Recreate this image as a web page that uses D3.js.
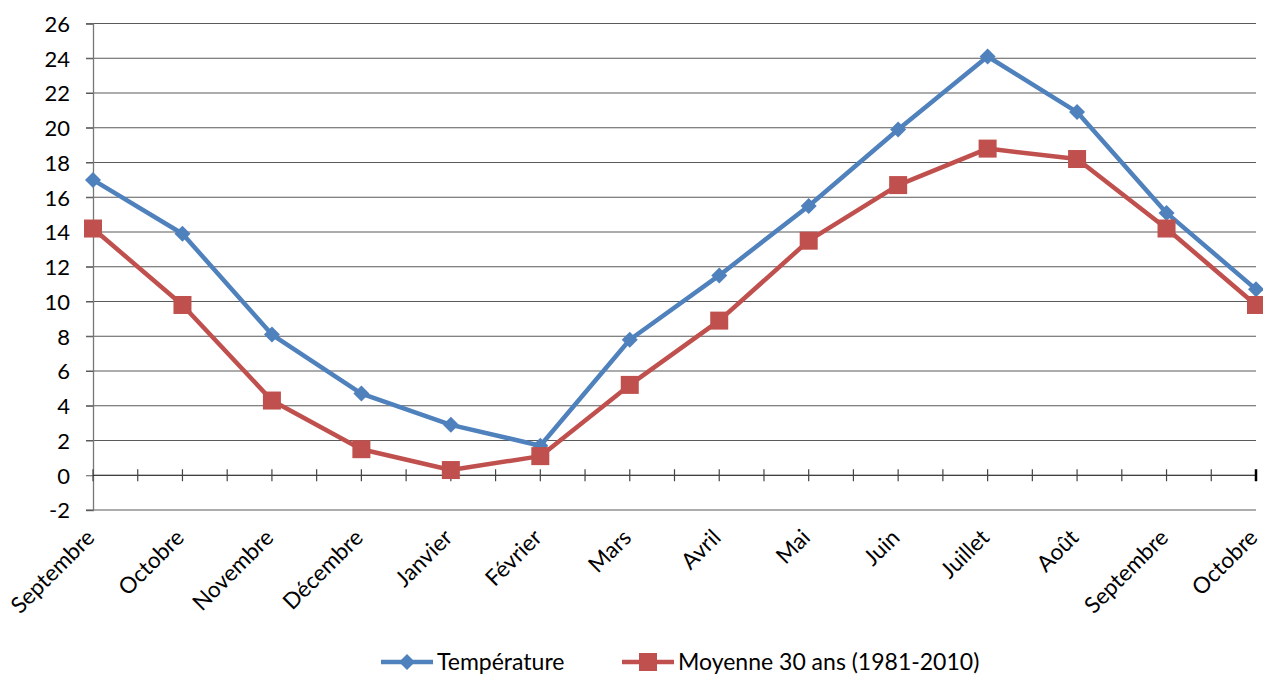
<!DOCTYPE html>
<html>
<head>
<meta charset="utf-8">
<script src="https://cdn.jsdelivr.net/npm/d3@7"></script>
<style>
  body { margin: 0; background: #fff; }
  text { font-family: Lato, "Open Sans", sans-serif; fill: #000; }
</style>
</head>
<body>
<svg id="chart"></svg>
<script>
const months = ['Septembre', 'Octobre', 'Novembre', 'Décembre', 'Janvier', 'Février', 'Mars',
  'Avril', 'Mai', 'Juin', 'Juillet', 'Août', 'Septembre', 'Octobre'];
const temperature = [17, 13.9, 8.1, 4.7, 2.9, 1.7, 7.8, 11.5, 15.5, 19.9, 24.1, 20.9, 15.1, 10.7];
const moyenne = [14.2, 9.8, 4.3, 1.5, 0.3, 1.1, 5.2, 8.9, 13.5, 16.7, 18.8, 18.2, 14.2, 9.8];
const yTicks = d3.range(-2, 27, 2);
const seriesNames = ['Température', 'Moyenne 30 ans (1981-2010)'];

(function () {
const svg = d3.select('#chart').attr('width', 1263).attr('height', 677);
const plotLeft = 93, plotRight = 1256, plotTop = 23.5, plotBottom = 510;

const x = d3.scaleLinear().domain([0, months.length - 1]).range([plotLeft, plotRight]);
const y = d3.scaleLinear().domain([-2, 26]).range([plotBottom, plotTop]);

// gridlines
svg.append('g').selectAll('line')
  .data(yTicks)
  .enter().append('line')
  .attr('x1', plotLeft - 7).attr('x2', plotRight)
  .attr('y1', d => y(d)).attr('y2', d => y(d))
  .attr('stroke', d => d === 0 ? 'none' : '#5a5a5a')
  .attr('stroke-width', 1.2);

// y axis
const yAxis = svg.append('g')
  .attr('transform', `translate(${plotLeft},0)`)
  .call(d3.axisLeft(y).tickValues(yTicks).tickSize(7).tickFormat(d3.format('d')));
yAxis.select('.domain').attr('stroke', '#777').attr('stroke-width', 1.3);
yAxis.selectAll('.tick line').attr('stroke', '#5a5a5a');
yAxis.selectAll('text').attr('font-size', 22).attr('x', -23).attr('dy', '0.36em')
  .text(d => d < 0 ? '-' + Math.abs(d) : d);

// x axis at 0
const y0 = y(0);
svg.append('line').attr('x1', plotLeft).attr('x2', plotRight).attr('y1', y0).attr('y2', y0)
  .attr('stroke', '#000').attr('stroke-width', 1.2);
const half = d3.range(0, months.length - 0.5, 0.5);
svg.append('g').selectAll('line')
  .data(half)
  .enter().append('line')
  .attr('x1', d => x(d)).attr('x2', d => x(d))
  .attr('y1', y0 - 6).attr('y2', y0 + 6)
  .attr('stroke', (d, i) => i === half.length - 1 ? '#000' : '#444')
  .attr('stroke-width', (d, i) => i === half.length - 1 ? 2.5 : 1.2);

// x labels
svg.append('g').selectAll('text')
  .data(months)
  .enter().append('text')
  .attr('transform', (d, i) => `translate(${x(i) + 3},${plotBottom + 29}) rotate(-45)`)
  .attr('text-anchor', 'end')
  .attr('font-size', 22.5)
  .text(d => d);

// lines
const colors = ['#4F81BD', '#C0504D'];
const series = [temperature, moyenne];
const line = d3.line().x((d, i) => x(i)).y(d => y(d));

series.forEach((s, k) => {
  svg.append('path')
    .datum(s)
    .attr('fill', 'none')
    .attr('stroke', colors[k])
    .attr('stroke-width', 4.5)
    .attr('stroke-linejoin', 'round')
    .attr('d', line);
});

function marker(g, k, cx, cy) {
  if (k === 0) {
    g.append('path')
      .attr('d', `M${cx},${cy - 8}L${cx + 8},${cy}L${cx},${cy + 8}L${cx - 8},${cy}Z`)
      .attr('fill', colors[0]);
  } else {
    g.append('rect')
      .attr('x', cx - 9).attr('y', cy - 9)
      .attr('width', 18).attr('height', 18)
      .attr('fill', colors[1]);
  }
}

series.forEach((s, k) => {
  const g = svg.append('g');
  s.forEach((v, i) => marker(g, k, x(i), y(v)));
});

// legend
const legendY = 662;
const legendX = [381, 622];
seriesNames.forEach((name, k) => {
  const lx = legendX[k];
  svg.append('line')
    .attr('x1', lx).attr('x2', lx + 52)
    .attr('y1', legendY).attr('y2', legendY)
    .attr('stroke', colors[k]).attr('stroke-width', 4.5);
  marker(svg, k, lx + 26, legendY);
  svg.append('text')
    .attr('x', lx + 56).attr('y', legendY)
    .attr('dy', '0.36em')
    .attr('font-size', 23)
    .text(name);
});
})();
</script>
</body>
</html>
